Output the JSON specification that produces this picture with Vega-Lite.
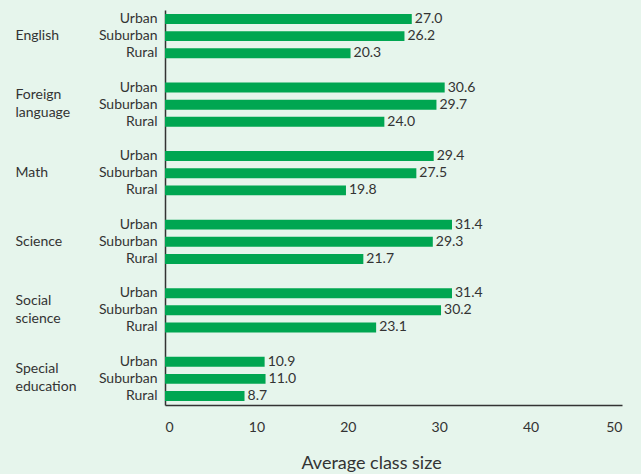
{
  "$schema": "https://vega.github.io/schema/vega-lite/v6.json",
  "background": "#e6f5ec",
  "padding": {"left": 15, "top": 10, "right": 19, "bottom": 2},
  "width": 457,
  "height": 395,
  "data": {"values": [
    {"key": "English|Urban", "subject": "English", "area": "Urban", "size": 27.0},
    {"key": "English|Suburban", "subject": "English", "area": "Suburban", "size": 26.2},
    {"key": "English|Rural", "subject": "English", "area": "Rural", "size": 20.3},
    {"key": "Foreign language|Urban", "subject": "Foreign language", "area": "Urban", "size": 30.6},
    {"key": "Foreign language|Suburban", "subject": "Foreign language", "area": "Suburban", "size": 29.7},
    {"key": "Foreign language|Rural", "subject": "Foreign language", "area": "Rural", "size": 24.0},
    {"key": "Math|Urban", "subject": "Math", "area": "Urban", "size": 29.4},
    {"key": "Math|Suburban", "subject": "Math", "area": "Suburban", "size": 27.5},
    {"key": "Math|Rural", "subject": "Math", "area": "Rural", "size": 19.8},
    {"key": "Science|Urban", "subject": "Science", "area": "Urban", "size": 31.4},
    {"key": "Science|Suburban", "subject": "Science", "area": "Suburban", "size": 29.3},
    {"key": "Science|Rural", "subject": "Science", "area": "Rural", "size": 21.7},
    {"key": "Social science|Urban", "subject": "Social science", "area": "Urban", "size": 31.4},
    {"key": "Social science|Suburban", "subject": "Social science", "area": "Suburban", "size": 30.2},
    {"key": "Social science|Rural", "subject": "Social science", "area": "Rural", "size": 23.1},
    {"key": "Special education|Urban", "subject": "Special education", "area": "Urban", "size": 10.9},
    {"key": "Special education|Suburban", "subject": "Special education", "area": "Suburban", "size": 11.0},
    {"key": "Special education|Rural", "subject": "Special education", "area": "Rural", "size": 8.7}
  ]},
  "encoding": {
    "x": {
      "field": "size", "type": "quantitative",
      "scale": {"domain": [0, 50]},
      "axis": {"values": [0, 10, 20, 30, 40, 50], "grid": false, "ticks": false, "labelPadding": 15, "labelFont": "Lato", "labelFontSize": 14, "labelColor": "#333333", "domainColor": "#333333", "domainWidth": 1.5, "title": "Average class size", "titleFont": "Lato", "titleFontSize": 18, "titleFontWeight": "normal", "titleColor": "#333333", "titlePadding": 20, "titleX": 206, "titleAlign": "center"}
    }
  },
  "layer": [
    {
      "mark": {"type": "bar", "color": "#00a651"},
      "encoding": {
        "y": {
          "field": "key", "type": "nominal",
          "scale": {
            "domain": ["English|Urban", "English|Suburban", "English|Rural", "g1",
                       "Foreign language|Urban", "Foreign language|Suburban", "Foreign language|Rural", "g2",
                       "Math|Urban", "Math|Suburban", "Math|Rural", "g3",
                       "Science|Urban", "Science|Suburban", "Science|Rural", "g4",
                       "Social science|Urban", "Social science|Suburban", "Social science|Rural", "g5",
                       "Special education|Urban", "Special education|Suburban", "Special education|Rural"],
            "paddingInner": 0.42, "paddingOuter": 0.235
          },
          "axis": {"title": null, "orient": "left", "ticks": false, "labelPadding": 8, "labelFont": "Lato", "labelFontSize": 14, "labelColor": "#333333", "domainColor": "#333333", "domainWidth": 1.5,
                   "labelExpr": "indexof(datum.value, '|') > 0 ? split(datum.value, '|')[1] : ''"}
        }
      }
    },
    {
      "mark": {"type": "text", "align": "left", "dx": 3, "font": "Lato", "fontSize": 14, "color": "#333333"},
      "encoding": {
        "y": {
          "field": "key", "type": "nominal",
          "axis": {"title": null, "orient": "left", "ticks": false, "domain": false, "labelAlign": "left", "labelPadding": 150, "labelFont": "Lato", "labelFontSize": 14, "labelColor": "#333333", "labelLineHeight": 18,
                   "labelOffset": {"condition": {"test": "indexof(datum.value, ' ') >= 0", "value": -9.5}, "value": 0},
                   "labelExpr": "indexof(datum.value, '|Suburban') > 0 ? split(split(datum.value, '|')[0], ' ') : ''"}
        },
        "text": {"field": "size", "type": "quantitative", "format": ".1f"}
      }
    }
  ],
  "resolve": {"axis": {"y": "independent"}},
  "config": {"view": {"stroke": null}}
}
